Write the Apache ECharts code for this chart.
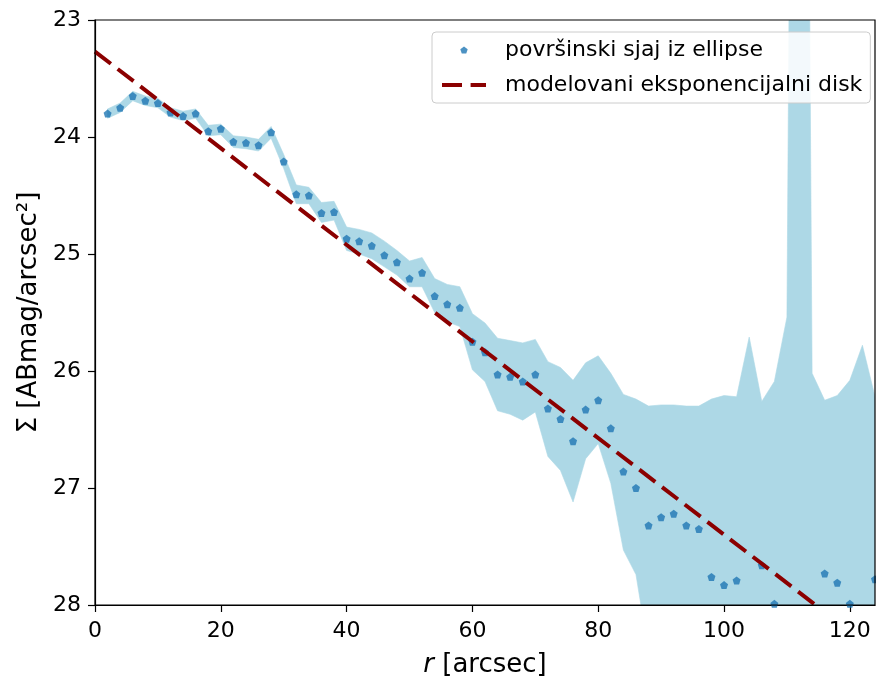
<!DOCTYPE html>
<html>
<head>
<meta charset="utf-8">
<script src="https://cdn.jsdelivr.net/npm/echarts@6/dist/echarts.min.js"></script>
<style>
html,body{margin:0;padding:0;background:#fff;}
#chart{width:876px;height:678px;}
</style>
</head>
<body>
<div id="chart"></div>
<script>
// ---- data ----
const radius = [2,4,6,8,10,12,14,16,18,20,22,24,26,28,30,32,34,36,38,40,42,44,46,48,50,52,54,56,58,60,
  62,64,66,68,70,72,74,76,78,80,82,84,86,88,90,92,94,96,98,100,102,104,106,108,110,112,114,116,118,120,122,124];
const surfaceBrightness = [23.80,23.75,23.65,23.69,23.71,23.79,23.82,23.80,23.95,23.93,24.04,24.05,24.07,23.96,24.21,
  24.49,24.50,24.65,24.64,24.87,24.89,24.93,25.01,25.07,25.21,25.16,25.36,25.43,25.46,25.75,
  25.84,26.03,26.05,26.09,26.03,26.32,26.41,26.60,26.33,26.25,26.49,26.86,27.00,27.32,27.25,27.22,27.32,27.35,
  27.76,27.83,27.79,null,27.66,27.99,null,null,null,27.73,27.81,27.99,null,27.78];
const bandUpper = [23.76,23.71,23.61,23.65,23.67,23.75,23.78,23.76,23.90,23.89,23.99,24.00,24.02,23.91,24.15,
  24.41,24.43,24.56,24.55,24.77,24.79,24.82,24.89,24.97,25.06,25.03,25.21,25.26,25.28,25.51,
  25.59,25.72,25.74,25.76,25.73,25.92,25.97,26.08,25.93,25.87,26.02,26.20,26.24,26.30,26.29,26.29,26.30,26.30,
  26.24,26.21,26.22,25.71,26.26,26.09,25.54,9.6,26.02,26.25,26.21,26.08,25.78,26.22];
const bandLower = [23.84,23.79,23.69,23.73,23.75,23.83,23.86,23.84,23.99,23.98,24.09,24.10,24.12,24.01,24.27,
  24.57,24.57,24.73,24.71,24.97,25.00,25.04,25.11,25.18,25.28,25.28,25.50,25.58,25.62,25.99,
  26.09,26.34,26.37,26.42,26.35,26.73,26.85,27.12,26.75,26.62,26.96,27.53,27.74,28.40,29.00,29.30,29.50,29.40,
  29.80,30.00,30.00,30.20,30.10,30.50,30.40,31.00,30.60,30.50,30.80,31.00,30.90,31.20];
const modelRadius = [0, 124];
const modelBrightness = [23.27, 28.39];
const xTickValues = [0,20,40,60,80,100,120];
const yTickValues = [23,24,25,26,27,28];

const nameSB = 'površinski sjaj iz ellipse';
const nameModel = 'modelovani eksponencijalni disk';
const FONT = 'DejaVu Sans';
const pentagon = 'path://M0,-1 L0.951,-0.309 L0.588,0.809 L-0.588,0.809 L-0.951,-0.309 Z';

const scatterData = [];
radius.forEach((x,i)=>{ if (surfaceBrightness[i] !== null) scatterData.push([x, surfaceBrightness[i]]); });
const bandData = radius.map((x,i)=>[x, bandUpper[i], bandLower[i]]);
const modelData = modelRadius.map((x,i)=>[x, modelBrightness[i]]);

function renderBand(params, api) {
  if (params.dataIndex !== 0) return null;
  const pts = [];
  for (let i = 0; i < bandData.length; i++) pts.push(api.coord([bandData[i][0], bandData[i][1]]));
  for (let i = bandData.length - 1; i >= 0; i--) pts.push(api.coord([bandData[i][0], bandData[i][2]]));
  const cs = params.coordSys;
  return {
    type:'polygon',
    shape:{points:pts},
    style:{fill:'#add8e6', stroke:'#add8e6', lineWidth:0.6},
    clipPath:{type:'rect', shape:{x:cs.x, y:cs.y, width:cs.width, height:cs.height}}
  };
}

const chart = echarts.init(document.getElementById('chart'), null, {renderer:'canvas'});
chart.setOption({
  animation:false,
  backgroundColor:'#fff',
  grid:{left:95, right:1, top:20, bottom:73, outerBoundsMode:'none', containLabel:false,
    show:true, borderColor:'#000', borderWidth:1.2, backgroundColor:'transparent', z:10},
  legend:{
    orient:'vertical', left:432, top:32,
    padding:[6,8,6,8],
    backgroundColor:'rgba(255,255,255,0.85)', borderColor:'#cccccc', borderWidth:1, borderRadius:4,
    itemWidth:44, itemHeight:7, itemGap:11,
    textStyle:{fontFamily:FONT, fontSize:22, lineHeight:24, color:'#000', padding:[0,0,0,14]},
    lineStyle:{width:4},
    data:[{name:nameSB, icon:pentagon}, {name:nameModel, itemStyle:{opacity:0}}]
  },
  xAxis:{
    type:'value', min:0, max:124,
    axisLine:{show:true, onZero:false, lineStyle:{color:'#000', width:1.2}},
    axisTick:{show:true, length:7, lineStyle:{color:'#000', width:1.2}, customValues:xTickValues},
    axisLabel:{fontFamily:FONT, fontSize:22, color:'#000', margin:15, customValues:xTickValues},
    splitLine:{show:false},
    name:'{i|r}{n| [arcsec]}', nameLocation:'middle', nameGap:47,
    nameTextStyle:{rich:{i:{fontFamily:FONT, fontSize:26, fontStyle:'italic', color:'#000'}, n:{fontFamily:FONT, fontSize:26, color:'#000'}}}
  },
  yAxis:{
    type:'value', inverse:true, min:23, max:28, interval:1,
    axisLine:{show:true, onZero:false, lineStyle:{color:'#000', width:1.2}},
    axisTick:{show:true, length:7, lineStyle:{color:'#000', width:1.2}, customValues:yTickValues},
    axisLabel:{fontFamily:FONT, fontSize:22, color:'#000', margin:14, customValues:yTickValues},
    splitLine:{show:false},
    name:'Σ [ABmag/arcsec²]', nameLocation:'middle', nameGap:52,
    nameTextStyle:{fontFamily:FONT, fontSize:26, color:'#000'}
  },
  series:[
    {name:'band', type:'custom', data:bandData, encode:{x:0, y:[1,2]}, renderItem:renderBand, clip:true, silent:true, z:1},
    {name:nameSB, type:'scatter', data:scatterData, symbol:pentagon, symbolSize:8, itemStyle:{color:'#1f77b4'}, clip:true, z:3},
    {name:nameModel, type:'line', data:modelData, symbol:'none', showSymbol:false,
      lineStyle:{color:'#8b0000', width:4, type:[20,8.6]}, itemStyle:{color:'#8b0000'}, clip:true, z:4}
  ]
});
</script>
</body>
</html>
